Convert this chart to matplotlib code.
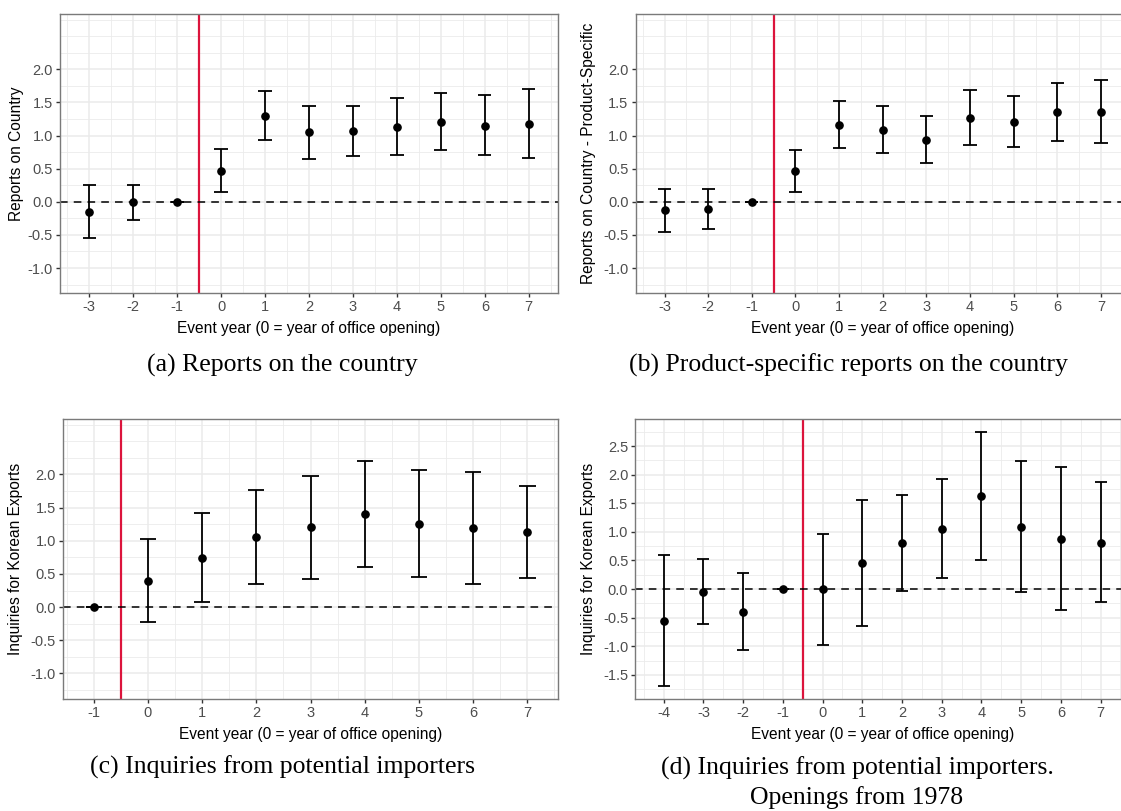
"""Event-study panels: office openings and reports / inquiries."""

import matplotlib
matplotlib.use("Agg")
import matplotlib.pyplot as plt
import numpy as np

plt.rcParams["font.family"] = ["Liberation Sans", "DejaVu Sans"]
plt.rcParams["axes.unicode_minus"] = False

# ---- data ----
event_a = [-3, -2, -1, 0, 1, 2, 3, 4, 5, 6, 7]
est_a = [-0.15, 0.0, 0.0, 0.47, 1.30, 1.05, 1.07, 1.13, 1.21, 1.15, 1.18]
lo_a = [-0.55, -0.27, 0.0, 0.15, 0.94, 0.65, 0.69, 0.70, 0.78, 0.70, 0.66]
hi_a = [0.25, 0.26, 0.0, 0.79, 1.67, 1.45, 1.45, 1.57, 1.64, 1.61, 1.70]

event_b = [-3, -2, -1, 0, 1, 2, 3, 4, 5, 6, 7]
est_b = [-0.13, -0.11, 0.0, 0.46, 1.16, 1.09, 0.94, 1.26, 1.21, 1.36, 1.36]
lo_b = [-0.45, -0.41, 0.0, 0.15, 0.81, 0.74, 0.58, 0.85, 0.82, 0.92, 0.89]
hi_b = [0.20, 0.19, 0.0, 0.78, 1.52, 1.44, 1.30, 1.68, 1.60, 1.80, 1.84]

event_c = [-1, 0, 1, 2, 3, 4, 5, 6, 7]
est_c = [0.0, 0.40, 0.74, 1.06, 1.20, 1.40, 1.26, 1.19, 1.13]
lo_c = [0.0, -0.22, 0.07, 0.35, 0.42, 0.60, 0.46, 0.35, 0.44]
hi_c = [0.0, 1.02, 1.42, 1.77, 1.97, 2.20, 2.07, 2.04, 1.83]

event_d = [-4, -3, -2, -1, 0, 1, 2, 3, 4, 5, 6, 7]
est_d = [-0.56, -0.05, -0.40, 0.0, 0.0, 0.46, 0.81, 1.05, 1.62, 1.08, 0.88, 0.81]
lo_d = [-1.70, -0.61, -1.07, 0.0, -0.98, -0.64, -0.03, 0.20, 0.50, -0.06, -0.37, -0.23]
hi_d = [0.59, 0.52, 0.28, 0.0, 0.96, 1.55, 1.65, 1.92, 2.75, 2.23, 2.14, 1.87]

ylabels = [
    "Reports on Country",
    "Reports on Country - Product-Specific",
    "Inquiries for Korean Exports",
    "Inquiries for Korean Exports",
]
captions = [
    "(a) Reports on the country",
    "(b) Product-specific reports on the country",
    "(c) Inquiries from potential importers",
    "(d) Inquiries from potential importers.\nOpenings from 1978",
]
xlabel = "Event year (0 = year of office opening)"
opening = -0.5

W, H = 1121, 811
fig = plt.figure(figsize=(W / 100, H / 100), dpi=100)


def add_axes_px(left, right, top, bottom):
    return fig.add_axes([left / W, 1 - bottom / H, (right - left) / W, (bottom - top) / H])


def draw_panel(ax, x, est, lo, hi, ylabel, ylim=None, ylab_px=46):
    x = np.asarray(x, float)
    est, lo, hi = (np.asarray(v, float) for v in (est, lo, hi))
    half = 0.15
    xmin, xmax = x.min() - half, x.max() + half
    pad = 0.05 * (xmax - xmin)
    ax.set_xlim(xmin - pad, xmax + pad)
    fixed = ylim is not None
    if ylim is None:
        ymin, ymax = lo.min(), hi.max()
        ypad = 0.05 * (ymax - ymin)
        ylim = (ymin - ypad, ymax + ypad)
    ax.set_ylim(*ylim)

    # grid
    xmaj = np.arange(np.ceil(xmin - pad), np.floor(xmax + pad) + 1)
    ax.set_xticks(xmaj)
    ax.set_xticklabels([f"{int(v)}" for v in xmaj])
    ax.set_xticks(np.arange(np.floor(xmin - pad), xmax + pad, 1.0) + 0.5, minor=True)
    y0, y1 = ylim
    if fixed:
        ymaj = [-1.0, -0.5, 0.0, 0.5, 1.0, 1.5, 2.0]
    else:
        ymaj = [v for v in np.arange(-1.5, 3.01, 0.5) if y0 <= v <= y1]
    ax.set_yticks(ymaj)
    ax.set_yticklabels([f"{v:.1f}" for v in ymaj])
    ymin_t = [v for v in np.arange(-2.0, 3.01, 0.25)
              if y0 <= v <= y1 and not np.any(np.isclose(v, ymaj))]
    ax.set_yticks(ymin_t, minor=True)
    ax.grid(which="major", color="#EBEBEB", lw=1.1, zorder=0)
    ax.grid(which="minor", color="#EBEBEB", lw=0.6, zorder=0)
    ax.set_axisbelow(True)

    ax.axvline(opening, color="#DC143C", lw=1.6, zorder=2)
    ax.axhline(0, color="black", lw=1.1, dashes=(5, 4), zorder=2)
    ax.vlines(x, lo, hi, color="black", lw=1.3, zorder=3)
    ax.hlines(lo, x - half, x + half, color="black", lw=1.3, zorder=3)
    ax.hlines(hi, x - half, x + half, color="black", lw=1.3, zorder=3)
    ax.plot(x, est, "o", color="black", ms=5.2, zorder=4)

    for s in ax.spines.values():
        s.set_color("#7a7a7a")
        s.set_linewidth(1.0)
    ax.tick_params(which="major", length=3, width=1.0, color="#333333",
                   labelsize=10.5, labelcolor="#4D4D4D", pad=2)
    ax.tick_params(which="minor", length=0)

    bbox = ax.get_position()
    wpx, hpx = bbox.width * W, bbox.height * H
    ax.set_xlabel(xlabel, fontsize=11.2, va="center")
    ax.xaxis.set_label_coords(0.5, -35 / hpx)
    ax.set_ylabel(ylabel, fontsize=11.2, va="center")
    ax.yaxis.set_label_coords(-ylab_px / wpx, 0.5)


ylim_abc = (-1.385, 2.835)

ax_a = add_axes_px(60, 558, 14, 293.5)
ax_b = add_axes_px(635.5, 1130, 14, 293.5)
ax_c = add_axes_px(63, 558, 419, 699)
ax_d = add_axes_px(635.3, 1129, 419, 699)

draw_panel(ax_a, event_a, est_a, lo_a, hi_a, ylabels[0], ylim_abc, ylab_px=43)
draw_panel(ax_b, event_b, est_b, lo_b, hi_b, ylabels[1], ylim_abc, ylab_px=47.5)
draw_panel(ax_c, event_c, est_c, lo_c, hi_c, ylabels[2], ylim_abc, ylab_px=47.5)
draw_panel(ax_d, event_d, est_d, lo_d, hi_d, ylabels[3], None, ylab_px=47)

cap_pos = [(282, 365), (848, 365), (283, 767), (857, 783)]
for text, (cx, cy) in zip(captions, cap_pos):
    fig.text(cx / W, 1 - cy / H, text, ha="center", va="center",
             fontsize=18.5, family=["Liberation Serif", "DejaVu Serif"],
             linespacing=1.33)

fig.savefig("out.png", dpi=100)
